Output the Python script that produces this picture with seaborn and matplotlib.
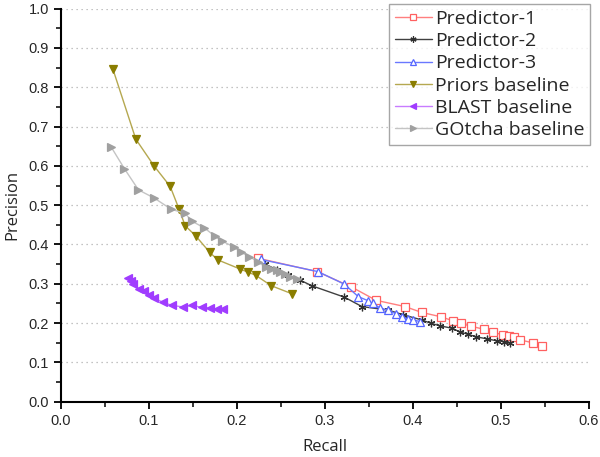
import numpy as np
import pandas as pd
import matplotlib
matplotlib.use('Agg')
import matplotlib.pyplot as plt
import seaborn as sns
from matplotlib.ticker import MultipleLocator

# Precision-recall curves
p1_recall = [0.224, 0.291, 0.330, 0.358, 0.391, 0.410, 0.432, 0.445, 0.455,
             0.466, 0.481, 0.491, 0.502, 0.509, 0.515, 0.522, 0.536, 0.546]
p1_precision = [0.365, 0.331, 0.292, 0.258, 0.242, 0.227, 0.216, 0.206, 0.199,
                0.192, 0.184, 0.177, 0.170, 0.166, 0.164, 0.157, 0.150, 0.142]

p2_recall = [0.232, 0.245, 0.258, 0.272, 0.285, 0.322, 0.342, 0.372, 0.389,
             0.410, 0.421, 0.431, 0.444, 0.453, 0.463, 0.472, 0.484, 0.495,
             0.503, 0.510]
p2_precision = [0.350, 0.336, 0.322, 0.309, 0.295, 0.266, 0.242, 0.233, 0.221,
                0.208, 0.199, 0.193, 0.187, 0.178, 0.171, 0.165, 0.160, 0.155,
                0.153, 0.149]

p3_recall = [0.227, 0.292, 0.322, 0.338, 0.349, 0.354, 0.363, 0.372, 0.381,
             0.387, 0.394, 0.400, 0.408]
p3_precision = [0.362, 0.331, 0.299, 0.267, 0.257, 0.250, 0.238, 0.233, 0.223,
                0.216, 0.211, 0.208, 0.204]

priors_recall = [0.059, 0.085, 0.106, 0.124, 0.134, 0.141, 0.153, 0.169, 0.178,
                 0.203, 0.212, 0.221, 0.239, 0.262]
priors_precision = [0.846, 0.668, 0.599, 0.548, 0.491, 0.448, 0.422, 0.380, 0.361,
                    0.338, 0.330, 0.322, 0.295, 0.275]

blast_recall = [0.076, 0.079, 0.082, 0.089, 0.094, 0.100, 0.106, 0.116, 0.126,
                0.139, 0.149, 0.160, 0.169, 0.177, 0.184]
blast_precision = [0.314, 0.307, 0.299, 0.286, 0.282, 0.272, 0.263, 0.253, 0.245,
                   0.241, 0.245, 0.240, 0.238, 0.235, 0.235]

gotcha_recall = [0.057, 0.072, 0.088, 0.106, 0.125, 0.141, 0.149, 0.163, 0.175,
                 0.183, 0.196, 0.205, 0.214, 0.224, 0.233, 0.239, 0.245, 0.249,
                 0.255, 0.260, 0.268]
gotcha_precision = [0.648, 0.593, 0.539, 0.518, 0.490, 0.479, 0.459, 0.442, 0.421,
                    0.409, 0.394, 0.380, 0.369, 0.356, 0.342, 0.338, 0.335, 0.331,
                    0.325, 0.318, 0.311]

sns.set_style('white')
plt.rcParams['font.family'] = ['Liberation Sans', 'DejaVu Sans']

fig = plt.figure(figsize=(6.0, 4.57), dpi=100)
ax = fig.add_axes([0.1017, 0.121, 0.88, 0.86])

# (label, x, y, line colour, marker, marker face, marker edge)
series = [
    ('Predictor-1', p1_recall, p1_precision, '#ff7f7f', 's', 'white', '#ff6060'),
    ('Predictor-2', p2_recall, p2_precision, '#404040', (6, 2, 0), '#303030', '#303030'),
    ('Predictor-3', p3_recall, p3_precision, '#6a78ff', '^', 'white', '#5566ff'),
    ('Priors baseline', priors_recall, priors_precision, '#b5a850', 'v', '#8a7d00', '#8a7d00'),
    ('BLAST baseline', blast_recall, blast_precision, '#c87cff', '<', '#a03cff', '#a03cff'),
    ('GOtcha baseline', gotcha_recall, gotcha_precision, '#c4c4c4', '>', '#a0a0a0', '#a0a0a0'),
]

for label, xs, ys, lc, mk, mfc, mec in series:
    df = pd.DataFrame({'Recall': xs, 'Precision': ys})
    sns.lineplot(data=df, x='Recall', y='Precision', ax=ax, sort=False,
                 color=lc, linewidth=1.0, marker=mk, markersize=5.5,
                 markerfacecolor=mfc, markeredgecolor=mec, markeredgewidth=0.9,
                 label=label)

ax.set_xlim(0, 0.6)
ax.set_ylim(0, 1.0)
ax.xaxis.set_major_locator(MultipleLocator(0.1))
ax.xaxis.set_minor_locator(MultipleLocator(0.05))
ax.yaxis.set_major_locator(MultipleLocator(0.1))
ax.yaxis.set_minor_locator(MultipleLocator(0.05))
ax.xaxis.set_major_formatter(plt.FormatStrFormatter('%.1f'))
ax.yaxis.set_major_formatter(plt.FormatStrFormatter('%.1f'))

for s in ['top', 'right']:
    ax.spines[s].set_visible(False)
for s in ['left', 'bottom']:
    ax.spines[s].set_color('black')
    ax.spines[s].set_linewidth(1.5)

ax.tick_params(which='major', direction='out', length=5, width=1.3,
               color='black', labelsize=10.5, bottom=True, left=True)
ax.tick_params(which='minor', direction='out', length=3.5, width=1.1,
               color='black', bottom=True, left=True)

ax.yaxis.grid(True, which='major', linestyle=(0, (1, 3)), color='#b0b0b0', linewidth=0.9)
ax.xaxis.grid(False)
ax.set_axisbelow(True)

ax.set_xlabel('Recall', fontsize=12, family=['Open Sans', 'DejaVu Sans'], labelpad=8)
ax.set_ylabel('Precision', fontsize=12, family=['Open Sans', 'DejaVu Sans'], labelpad=6)

leg = ax.legend(loc='upper right', bbox_to_anchor=(1.002, 1.012), frameon=True,
                fancybox=False, handlelength=1.9, handletextpad=0.15,
                labelspacing=0.22, borderpad=0.3, borderaxespad=0.0,
                markerscale=0.8,
                prop={'family': ['Open Sans', 'DejaVu Sans'], 'size': 14})
leg.get_frame().set_edgecolor('#909090')
leg.get_frame().set_linewidth(1.0)

fig.savefig('out.png', dpi=100)
